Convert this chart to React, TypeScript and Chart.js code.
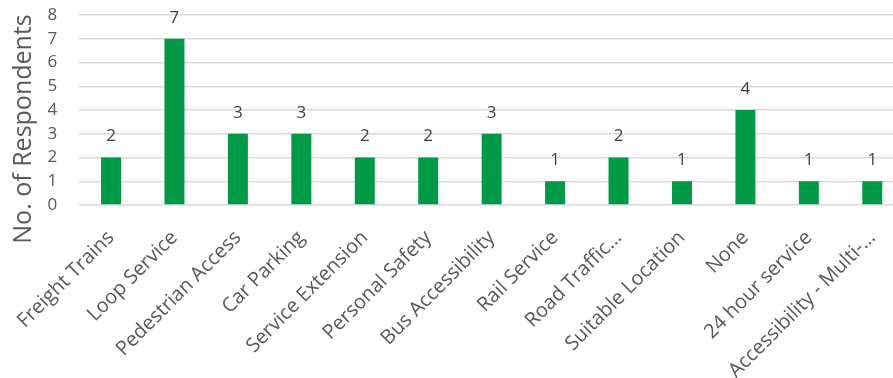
import React, { useEffect, useRef } from "react";
import { Chart, registerables } from "chart.js";

Chart.register(...registerables);

const categories = [
  "Freight Trains",
  "Loop Service",
  "Pedestrian Access",
  "Car Parking",
  "Service Extension",
  "Personal Safety",
  "Bus Accessibility",
  "Rail Service",
  "Road Traffic…",
  "Suitable Location",
  "None",
  "24 hour service",
  "Accessibility - Multi-…",
];
const respondents = [2, 7, 3, 3, 2, 2, 3, 1, 2, 1, 4, 1, 1];
const yTicks = [0, 1, 2, 3, 4, 5, 6, 7, 8];
const yTitle = "No. of Respondents";

const FONT = "'Open Sans', 'Liberation Sans', sans-serif";
const TEXT = "#595959";

export default function App() {
  const ref = useRef<HTMLCanvasElement>(null);
  useEffect(() => {
    if (!ref.current) return;
    const labelPlugin = {
      id: "labels",
      afterDatasetsDraw(chart: any) {
        const ctx = chart.ctx;
        const meta = chart.getDatasetMeta(0);
        ctx.save();
        ctx.fillStyle = "#404040";
        ctx.font = `17px ${FONT}`;
        ctx.textAlign = "center";
        ctx.textBaseline = "middle";
        meta.data.forEach((bar: any, i: number) => {
          ctx.fillText(String(respondents[i]), bar.x, bar.y - 21);
        });
        ctx.restore();
      },
      afterDraw(chart: any) {
        const ctx = chart.ctx;
        ctx.save();
        ctx.fillStyle = TEXT;
        ctx.font = `25px ${FONT}`;
        ctx.textAlign = "center";
        ctx.textBaseline = "alphabetic";
        ctx.translate(31, 129);
        ctx.rotate(-Math.PI / 2);
        ctx.fillText(yTitle, 0, 0);
        ctx.restore();
      },
    };
    const chart = new Chart(ref.current, {
      type: "bar",
      data: {
        labels: categories,
        datasets: [
          {
            data: respondents,
            backgroundColor: "#009A46",
            borderWidth: 0,
            categoryPercentage: 1,
            barPercentage: 0.315,
          },
        ],
      },
      options: {
        responsive: false,
        animation: false,
        layout: { padding: { top: 15, left: 0, right: 0, bottom: 0 } },
        plugins: { legend: { display: false }, tooltip: { enabled: false } },
        scales: {
          x: {
            grid: { display: false, drawTicks: false },
            border: { display: false },
            ticks: {
              color: TEXT,
              font: { family: FONT, size: 20 },
              minRotation: 45,
              maxRotation: 45,
              padding: 21,
              autoSkip: false,
            },
            afterFit(scale: any) {
              scale.height = 173;
              scale.paddingLeft = 0;
              scale.paddingRight = 0;
            },
          },
          y: {
            min: 0,
            max: 8,
            afterBuildTicks(scale: any) {
              scale.ticks = yTicks.map((v) => ({ value: v }));
            },
            grid: { color: "#d9d9d9", lineWidth: 1.5, drawTicks: false },
            border: { display: false },
            ticks: {
              color: TEXT,
              font: { family: FONT, size: 17 },
              padding: 22,
              stepSize: 1,
              autoSkip: false,
            },
            afterFit(scale: any) {
              scale.width = 79.3;
              scale.paddingTop = 0;
              scale.paddingBottom = 0;
            },
          },
        },
      },
      plugins: [labelPlugin],
    });
    return () => chart.destroy();
  }, []);
  return (
    <div
      style={{
        position: "fixed",
        left: 0,
        top: 0,
        width: 893,
        height: 378,
        overflow: "hidden",
        background: "#fff",
      }}
    >
      <canvas ref={ref} width={904} height={378} style={{ display: "block" }} />
    </div>
  );
}
